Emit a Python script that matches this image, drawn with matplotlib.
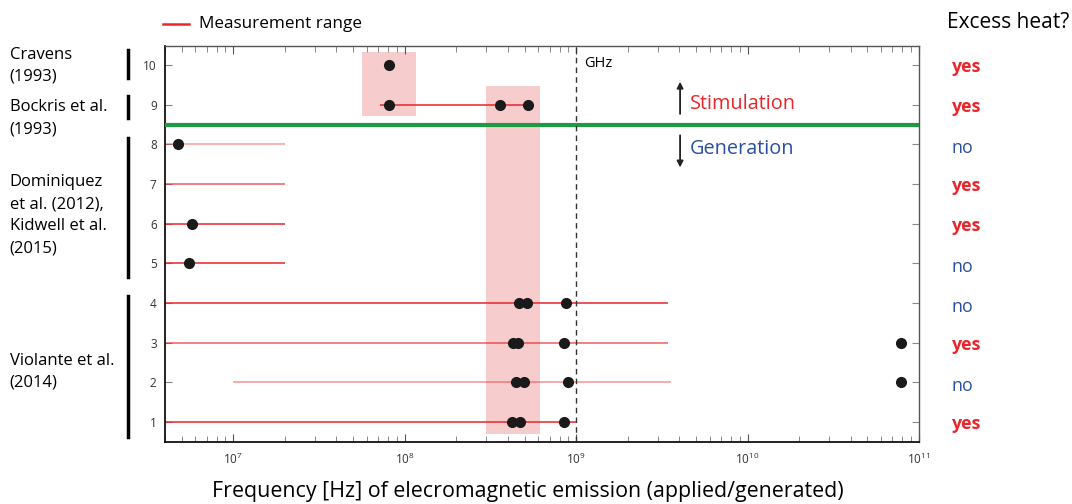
import numpy as np
import matplotlib.pyplot as plt
import matplotlib.transforms as mtransforms
from matplotlib.ticker import LogLocator, LogFormatterMathtext, NullFormatter

plt.rcParams['font.family'] = ['Open Sans', 'DejaVu Sans']
plt.rcParams['mathtext.fontset'] = 'custom'
plt.rcParams['mathtext.rm'] = 'Open Sans'

RED = '#e8262b'
BLUE = '#2a4fa3'
DOT = '#1a1a1a'

rows = [1, 2, 3, 4, 5, 6, 7, 8, 9, 10]
excess = ['yes', 'no', 'yes', 'no', 'no', 'yes', 'yes', 'no', 'yes', 'yes']

# measurement ranges per row: (row, start, end, alpha)
ranges = [
    (1, 4e6, 1.0e9, 1.0),
    (2, 1e7, 3.6e9, 0.5),
    (3, 4e6, 3.45e9, 0.75),
    (4, 4e6, 3.45e9, 1.0),
    (5, 4e6, 2.0e7, 1.0),
    (6, 4e6, 2.0e7, 1.0),
    (7, 4e6, 2.0e7, 0.75),
    (8, 4e6, 2.0e7, 0.45),
    (9, 7.2e7, 5.3e8, 1.0),
]

# emission points per row
points = {
    10: [8.1e7],
    9: [8.1e7, 3.6e8, 5.26e8],
    8: [4.78e6],
    6: [5.76e6],
    5: [5.5e6],
    4: [4.66e8, 5.18e8, 8.75e8],
    3: [4.3e8, 4.6e8, 8.5e8, 7.9e10],
    2: [4.47e8, 4.98e8, 8.97e8, 7.9e10],
    1: [4.24e8, 4.71e8, 8.5e8],
}

# shaded boxes: (x0, x1, y0, y1)
boxes = [(5.65e7, 1.17e8, 8.71, 10.33), (2.99e8, 6.17e8, 0.70, 9.47)]

groups = [
    ('Cravens\n(1993)', 10.38, 9.67, 9.98),
    ('Bockris et al.\n(1993)', 9.22, 8.66, 8.66),
    ('Dominiquez\net al. (2012),\nKidwell et al.\n(2015)', 8.15, 4.67, 6.22),
    ('Violante et al.\n(2014)', 4.17, 0.62, 2.27),
]

fig = plt.figure(figsize=(10.72, 5.04), dpi=100)
ax = fig.add_axes([0.1539, 0.123, 0.7034, 0.7857])
ax.set_xscale('log')
ax.set_xlim(4e6, 1e11)
ax.set_ylim(0.5, 10.48)

for x0, x1, y0, y1 in boxes:
    ax.fill_between([x0, x1], y0, y1, color='#f7cccc', lw=0, zorder=1)

for r, s, e, a in ranges:
    ax.plot([s, e], [r, r], color=RED, alpha=a, lw=1.1, zorder=2,
            solid_capstyle='butt')

for r, xs in points.items():
    ax.plot(xs, [r] * len(xs), 'o', color=DOT, ms=7, zorder=4)

ax.axhline(8.5, color='#1e9a45', lw=3, zorder=3)
ax.axvline(1e9, color='#333333', lw=1, ls=(0, (4, 3)), zorder=3)
ax.text(1.12e9, 10.05, 'GHz', fontsize=10.5, va='center', ha='left')

arrow_x = 4.04e9
ax.annotate('', xy=(arrow_x, 9.65), xytext=(arrow_x, 8.7),
            arrowprops=dict(arrowstyle='-|>', color='#222222', lw=1.3,
                            mutation_scale=9))
ax.annotate('', xy=(arrow_x, 7.35), xytext=(arrow_x, 8.3),
            arrowprops=dict(arrowstyle='-|>', color='#222222', lw=1.3,
                            mutation_scale=9))
ax.text(4.6e9, 9.02, 'Stimulation', color=RED, fontsize=14.3, va='center')
ax.text(4.6e9, 7.88, 'Generation', color=BLUE, fontsize=14.3, va='center')

ax.set_yticks(rows)
ax.tick_params(axis='y', which='both', direction='in', length=5, color='#888888',
               labelsize=8.5, labelcolor='#333333', right=True, pad=6)
ax.xaxis.set_major_locator(LogLocator(base=10))
ax.xaxis.set_major_formatter(LogFormatterMathtext())
ax.xaxis.set_minor_locator(LogLocator(base=10, subs=np.arange(2, 10)))
ax.xaxis.set_minor_formatter(NullFormatter())
ax.tick_params(axis='x', which='major', direction='in', length=6, color='#555555',
               top=True, labelsize=8.5, labelcolor='#333333', pad=7)
ax.tick_params(axis='x', which='minor', direction='in', length=4, color='#777777',
               top=True)
for side in ['left', 'bottom']:
    ax.spines[side].set_linewidth(1.3)
    ax.spines[side].set_color('#111111')
for side in ['top', 'right']:
    ax.spines[side].set_linewidth(1.0)
    ax.spines[side].set_color('#555555')

ax.set_xlabel('Frequency [Hz] of elecromagnetic emission (applied/generated)',
              fontsize=15.4)
ax.xaxis.set_label_coords(0.4814, -0.098)

# yes/no column
trans_r = mtransforms.blended_transform_factory(fig.transFigure, ax.transData)
for r, val in zip(rows, excess):
    if val == 'yes':
        fig.text(0.888, r - 0.05, val, transform=trans_r, color=RED,
                 fontsize=12.8, fontweight='bold', va='center')
    else:
        fig.text(0.888, r - 0.1, val, transform=trans_r, color=BLUE,
                 fontsize=12.8, va='center')
fig.text(0.883, 0.955, 'Excess heat?', fontsize=15, va='center')

# group labels with bars
for label, y0, y1, yt in groups:
    ax.plot([0.119, 0.119], [y0, y1], transform=trans_r, color='black', lw=2.5,
            clip_on=False)
    fig.text(0.009, yt, label, transform=trans_r, fontsize=12, va='center',
             linespacing=1.5)

# legend
fig.lines.append(plt.Line2D([0.152, 0.176], [0.952, 0.952], color=RED, lw=1.8,
                            transform=fig.transFigure))
fig.text(0.186, 0.952, 'Measurement range', fontsize=12.3, va='center')

fig.savefig('out.png', dpi=100)
